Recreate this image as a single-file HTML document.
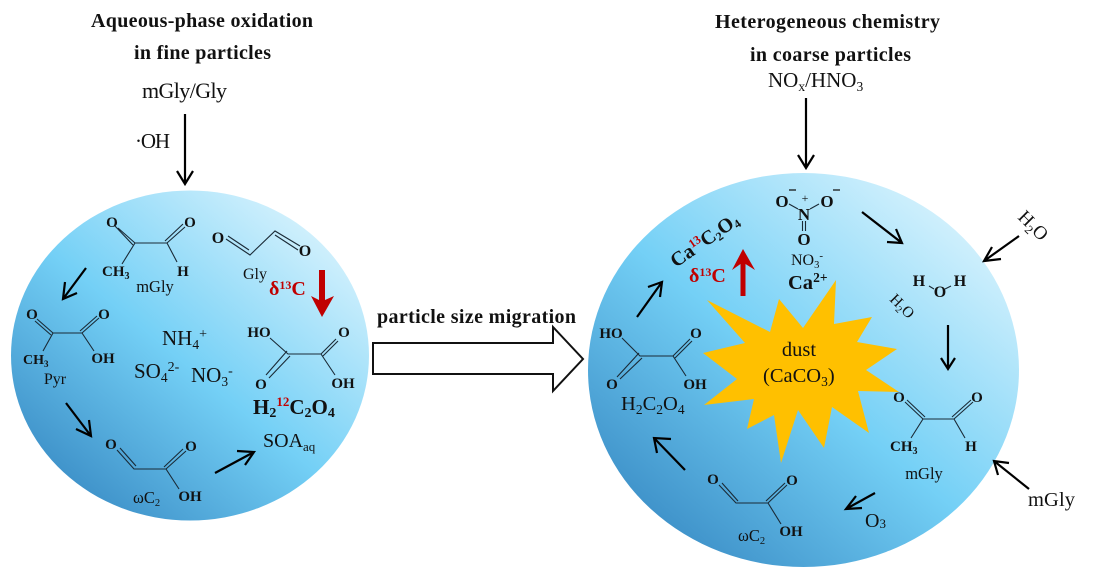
<!DOCTYPE html>
<html><head><meta charset="utf-8"><style>
html,body{margin:0;padding:0;background:#fff}
svg{display:block}
text{font-family:"Liberation Serif",serif;fill:#111}
.b{font-weight:bold}
.a{fill:none;stroke:#000;stroke-width:2.2}
.l{fill:none;stroke:#1a2a36;stroke-width:1.1}
.r{fill:#c00000}
.at{font-weight:bold;font-size:15px;text-anchor:middle}
</style></head><body>
<svg width="1094" height="577" viewBox="0 0 1094 577" xmlns="http://www.w3.org/2000/svg">
<defs>
<linearGradient id="g1" x1="0.15" y1="0.9" x2="0.87" y2="0.1">
<stop offset="0" stop-color="#3d90c8"/><stop offset="0.47" stop-color="#74d0f6"/><stop offset="1" stop-color="#d6f2fd"/>
</linearGradient>
</defs>
<rect width="1094" height="577" fill="#fff"/>
<ellipse cx="190" cy="355.500" rx="179" ry="165" fill="url(#g1)"/>
<ellipse cx="803.500" cy="370" rx="215.500" ry="197" fill="url(#g1)"/>
<polygon fill="#ffc000" points="707,300 770,332 779,299 803,328 836,280 834,324 872,317 857,342 897,349 866,370 899,392 858,391 869,433 832,407 824,448 798,410 781,463 774,415 747,429 754,399 704,405 737,379 703,353 745,343"/>

<!-- titles -->
<text class="b" x="91" y="27" font-size="20" textLength="222">Aqueous-phase oxidation</text>
<text class="b" x="134" y="59" font-size="20" textLength="137">in fine particles</text>
<text x="142" y="98" font-size="22" textLength="85">mGly/Gly</text>
<text x="135" y="148" font-size="21" textLength="35">·OH</text>
<text class="b" x="715" y="28" font-size="20" textLength="225">Heterogeneous chemistry</text>
<text class="b" x="750" y="61" font-size="20" textLength="161">in coarse particles</text>
<text x="768" y="87" font-size="21">NO<tspan font-size="13.500" dy="4">x</tspan><tspan dy="-4">/HNO</tspan><tspan font-size="13.500" dy="4">3</tspan></text>
<text class="b" x="377" y="323" font-size="20" textLength="199">particle size migration</text>
<polygon points="373,343 553,343 553,327 583,359 553,391 553,374 373,374" fill="#fff" stroke="#111" stroke-width="2"/>

<!-- black arrows -->
<path class="a" d="M185,114V184M177,171L185,184L193,171"/>
<path class="a" d="M806,98V168M798,155L806,168L814,155"/>
<path class="a" d="M86,268L63,299M65,282L63,299L77,293"/>
<path class="a" d="M66,403L91,436M89,420L91,436L76,429"/>
<path class="a" d="M215,473L254,452M237,451L254,452L245,465"/>
<path class="a" d="M637,317L662,282M648,287L662,282L660,297"/>
<path class="a" d="M685,470L654,438M671,439L654,438L657,453"/>
<path class="a" d="M875,493L846,509M856,496L846,509L862,508"/>
<path class="a" d="M948,325V369M941,358L948,369L955,358"/>
<path class="a" d="M862,212L902,243M896,229L902,243L887,242"/>
<path class="a" d="M1019,236L984,261M992,247L984,261L1001,259"/>
<path class="a" d="M1029,489L994,461M1009,463L994,461L998,475"/>

<!-- red arrows -->
<polygon class="r" points="319,270 325,270 325,300 334,296 322,317 311,296 319,300"/>
<polygon class="r" points="740.500,296 745.500,296 745.500,264 755,270 743,249 732,270 740.500,264"/>

<!-- left particle: mGly -->
<path class="l" d="M118,228L135,243H167L185,227M115,226L133,245M165,241L183,224M135,243L122,264M167,243L177,262" stroke-width="1.300"/>
<text class="at" x="112" y="227">O</text><text class="at" x="190" y="227">O</text>
<text class="b" x="102" y="276" font-size="15">CH<tspan font-size="10" dy="3">3</tspan></text>
<text class="at" x="183" y="276">H</text>
<text x="155" y="292" font-size="16.500" text-anchor="middle">mGly</text>

<!-- Gly -->
<path class="l" d="M226,239L250,255L275,231L300,246M228,236L249,250M275,235L298,250"/>
<text class="at" x="218" y="243" style="font-size:16px">O</text><text class="at" x="305" y="256" style="font-size:16px">O</text>
<text x="255" y="279" font-size="16" text-anchor="middle">Gly</text>
<text class="b" x="269" y="295" font-size="20" style="fill:#c00000">δ<tspan font-size="12" dy="-6">13</tspan><tspan dy="6">C</tspan></text>

<!-- Pyr -->
<path class="l" d="M37,319L53,333H82L99,318M35,321L51,335M80,331L97,316M53,333L43,351M82,333L94,351"/>
<text class="at" x="32" y="319">O</text><text class="at" x="104" y="319">O</text>
<text class="b" x="23" y="364" font-size="14">CH<tspan font-size="9" dy="3">3</tspan></text>
<text class="at" x="103" y="363">OH</text>
<text x="55" y="384" font-size="16" text-anchor="middle">Pyr</text>

<!-- ions -->
<text x="162" y="345" font-size="21">NH<tspan font-size="13.500" dy="4">4</tspan><tspan font-size="14" dy="-11">+</tspan></text>
<text x="134" y="378" font-size="21">SO<tspan font-size="13.500" dy="4">4</tspan><tspan font-size="14" dy="-11">2-</tspan></text>
<text x="191" y="382" font-size="21">NO<tspan font-size="13.500" dy="4">3</tspan><tspan font-size="14" dy="-11">-</tspan></text>

<!-- oxalic left -->
<path class="l" d="M270,338L288,354H321L336,339M287,351L266,375M290,356L269,378M323,356L338,341M321,354L335,375"/>
<text class="at" x="259" y="337">HO</text><text class="at" x="344" y="337">O</text>
<text class="at" x="261" y="389">O</text><text class="at" x="343" y="388">OH</text>
<text class="b" x="253" y="414" font-size="21">H<tspan font-size="14" dy="3">2</tspan><tspan font-size="13" dy="-11" style="fill:#c00000">12</tspan><tspan dy="8">C</tspan><tspan font-size="14" dy="3">2</tspan><tspan dy="-3">O</tspan><tspan font-size="14" dy="3">4</tspan></text>

<!-- wC2 left -->
<path class="l" d="M117,450L134,469H166L186,451M120,448L136,466M164,467L183,449M166,469L179,489"/>
<text class="at" x="111" y="449">O</text><text class="at" x="191" y="451">O</text>
<text class="at" x="190" y="501">OH</text>
<text x="133" y="503" font-size="16.500">ωC<tspan font-size="10.500" dy="3">2</tspan></text>
<text x="263" y="447" font-size="20">SOA<tspan font-size="13" dy="4">aq</tspan></text>

<!-- right particle -->
<text class="b" transform="translate(676,268) rotate(-35)" font-size="20">Ca<tspan font-size="12" dy="-7" style="fill:#c00000">13</tspan><tspan dy="7">C</tspan><tspan font-size="12" dy="3">2</tspan><tspan dy="-3">O</tspan><tspan font-size="12" dy="3">4</tspan></text>
<text class="b" x="689" y="282" font-size="20" style="fill:#c00000">δ<tspan font-size="12" dy="-6">13</tspan><tspan dy="6">C</tspan></text>

<!-- nitrate -->
<path class="l" d="M789,204L798,209M819,204L810,209M802.500,221V231M805.500,221V231"/>
<text class="at" x="782" y="207" style="font-size:17px">O</text><text class="at" x="827" y="207" style="font-size:17px">O</text>
<text class="at" x="804" y="220" style="font-size:17px">N</text><text class="at" x="804" y="245" style="font-size:17px">O</text>
<text x="805" y="202" font-size="12" text-anchor="middle">+</text>
<path d="M789,190H796M833,190H840" stroke="#111" stroke-width="1.200"/>
<text x="791" y="265" font-size="16">NO<tspan font-size="10.500" dy="3">3</tspan><tspan font-size="11" dy="-9">-</tspan></text>
<text class="b" x="788" y="289" font-size="20.500">Ca<tspan font-size="13.500" dy="-7">2+</tspan></text>
<text x="799" y="356" font-size="20.500" text-anchor="middle">dust</text>
<text x="763" y="382" font-size="20.500">(CaCO<tspan font-size="13.500" dy="4">3</tspan><tspan dy="-4">)</tspan></text>

<!-- oxalic right -->
<path class="l" d="M622,338L640,356H673L690,339M639,353L617,377M642,358L620,379M675,358L692,341M673,356L686,376"/>
<text class="at" x="611" y="338">HO</text><text class="at" x="696" y="338">O</text>
<text class="at" x="612" y="389">O</text><text class="at" x="695" y="389">OH</text>
<text x="621" y="410" font-size="20.500">H<tspan font-size="13.500" dy="4">2</tspan><tspan dy="-4">C</tspan><tspan font-size="13.500" dy="4">2</tspan><tspan dy="-4">O</tspan><tspan font-size="13.500" dy="4">4</tspan></text>

<!-- wC2 right -->
<path class="l" d="M719,485L736,503H768L787,485M722,483L738,501M766,501L785,483M768,503L781,524"/>
<text class="at" x="713" y="484">O</text><text class="at" x="792" y="485">O</text>
<text class="at" x="791" y="536">OH</text>
<text x="738" y="541" font-size="16.500">ωC<tspan font-size="10.500" dy="3">2</tspan></text>

<!-- water -->
<text transform="translate(889,300) rotate(45)" font-size="15.500">H<tspan font-size="10" dy="3">2</tspan><tspan dy="-3">O</tspan></text>
<text transform="translate(1017,218) rotate(45)" font-size="19">H<tspan font-size="12.500" dy="4">2</tspan><tspan dy="-4">O</tspan></text>
<path class="l" d="M929,286L934,289M945,289L951,286"/>
<text class="at" x="919" y="286" style="font-size:16px">H</text><text class="at" x="940" y="297" style="font-size:16px">O</text><text class="at" x="960" y="286" style="font-size:16px">H</text>

<!-- mGly right -->
<path class="l" d="M905,402L923,419H954L973,402M907,400L925,417M952,417L971,400M923,419L911,438M954,419L965,438" stroke-width="1.300"/>
<text class="at" x="899" y="402">O</text><text class="at" x="977" y="402">O</text>
<text class="b" x="890" y="451" font-size="15">CH<tspan font-size="10" dy="3">3</tspan></text>
<text class="at" x="971" y="451">H</text>
<text x="924" y="479" font-size="16.500" text-anchor="middle">mGly</text>
<text x="865" y="527" font-size="20">O<tspan font-size="13" dy="1">3</tspan></text>
<text x="1028" y="506" font-size="20.500" textLength="47">mGly</text>
</svg>
</body></html>
